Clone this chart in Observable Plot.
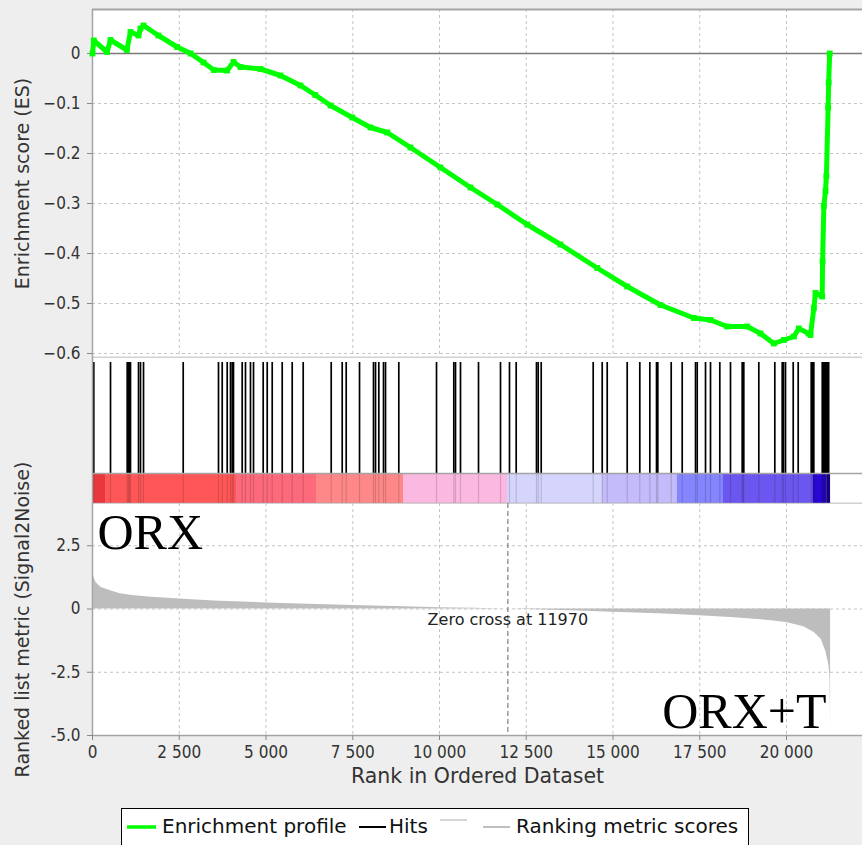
<!DOCTYPE html>
<html>
<head>
<meta charset="utf-8">
<script src="https://cdn.jsdelivr.net/npm/d3@7"></script>
<script src="https://cdn.jsdelivr.net/npm/@observablehq/plot@0.6"></script>
<style>
  html, body { margin: 0; padding: 0; background: #eeeeee; }
  #wrap { position: relative; width: 862px; height: 845px; overflow: hidden; background: #eeeeee; }
  .panel { position: absolute; left: 0; }
  #legend { position: absolute; left: 121px; top: 808px; }
</style>
</head>
<body>
<div id="wrap">
  <div class="panel" id="p1" style="top:0px"></div>
  <div class="panel" id="p2" style="top:357px"></div>
  <div class="panel" id="p3" style="top:503px"></div>
  <svg id="legend" width="628" height="40" style="overflow:visible">
    <rect x="0.5" y="0.5" width="627" height="45" fill="white" stroke="black" stroke-width="1"></rect>
    <g font-family="'DejaVu Sans',sans-serif" font-size="20" fill="#111">
      <line x1="6" x2="35" y1="19" y2="19" stroke="#00ff00" stroke-width="3.5"></line>
      <text x="41" y="25">Enrichment profile</text>
      <line x1="238" x2="265" y1="19" y2="19" stroke="#000" stroke-width="2"></line>
      <text x="268" y="25">Hits</text>
      <line x1="319" x2="346" y1="12" y2="12" stroke="#c8c8c8" stroke-width="1.5"></line>
      <line x1="362" x2="389" y1="19" y2="19" stroke="#aaaaaa" stroke-width="1.5"></line>
      <text x="395" y="25">Ranking metric scores</text>
    </g>
  </svg>
</div>
<script>
// ---------------- data ----------------
const esRank = [0, 37, 420, 519, 990, 1095, 1326, 1383, 1470, 1900, 2440, 2830, 3200, 3497, 3880, 4063, 4265, 4841, 5418, 5994, 6420, 6859, 7484, 8012, 8492, 9164, 10029, 10893, 11663, 12527, 13487, 14544, 15409, 16369, 17329, 17810, 18290, 18866, 19250, 19635, 19923, 20211, 20355, 20634, 20692, 20788, 20836, 21028, 21040, 21076, 21124, 21150, 21200, 21215, 21245];
const esValue = [0.0, 0.026, 0.003, 0.027, 0.007, 0.043, 0.036, 0.050, 0.056, 0.036, 0.013, 0.0, -0.018, -0.033, -0.034, -0.017, -0.027, -0.031, -0.044, -0.064, -0.083, -0.104, -0.128, -0.148, -0.158, -0.188, -0.228, -0.268, -0.302, -0.342, -0.382, -0.429, -0.466, -0.503, -0.529, -0.533, -0.546, -0.546, -0.560, -0.580, -0.573, -0.566, -0.550, -0.560, -0.563, -0.509, -0.479, -0.486, -0.416, -0.305, -0.275, -0.245, -0.108, -0.058, 0.0];

const hitRanks = [37, 519, 1000, 1037, 1066, 1095, 1326, 1383, 1470, 2614, 3631, 3738, 3882, 3977, 4026, 4063, 4314, 4409, 4553, 4640, 4919, 5035, 5179, 5467, 5755, 6072, 6879, 7196, 7311, 7695, 8098, 8156, 8251, 8386, 8444, 8827, 9914, 10412, 10461, 10605, 11124, 11758, 12017, 12210, 12795, 12844, 12931, 14429, 14689, 14833, 15409, 15772, 16061, 16254, 16291, 16677, 16994, 17378, 17427, 17666, 17810, 18078, 18386, 18723, 18746, 18769, 19202, 19663, 19876, 19914, 19971, 20193, 20337, 20712, 20750, 20787, 21030, 21055, 21080, 21105, 21130, 21160, 21190, 21215];

const metricRank = [0, 30, 100, 250, 520, 800, 1150, 1700, 2500, 3500, 5000, 6500, 7500, 9000, 10000, 11000, 11970, 13000, 14000, 15000, 16500, 17500, 18500, 19500, 20000, 20500, 20800, 21000, 21130, 21220, 21250, 21262, 21270];
const metricValue = [1.6, 1.3, 1.05, 0.85, 0.72, 0.6, 0.53, 0.46, 0.4, 0.32, 0.24, 0.18, 0.14, 0.09, 0.05, 0.025, 0, -0.04, -0.08, -0.13, -0.2, -0.27, -0.35, -0.45, -0.53, -0.7, -0.93, -1.2, -1.66, -2.2, -2.6, -3.5, -4.7];

const barStart = [0, 375, 4150, 6455, 8963, 11960, 14689, 16850, 18184, 20778, 21160];
const barEnd   = [375, 4150, 6455, 8963, 11960, 14689, 16850, 18184, 20778, 21160, 21270];
const barColor = ["#e8383e", "#ff5757", "#fd6a7c", "#fe8888", "#fbb8e1", "#d5d4fd", "#c4bbfa", "#8585fd", "#6b57ef", "#2a06d2", "#1e0090"];

const xTicks = [0, 2500, 5000, 7500, 10000, 12500, 15000, 17500, 20000];
const esTicks = [0, -0.1, -0.2, -0.3, -0.4, -0.5, -0.6];
const metricTicks = [2.5, 0, -2.5, -5];
const zeroCross = 11970;
const labels = {
  es: "Enrichment score (ES)",
  metric: "Ranked list metric (Signal2Noise)",
  x: "Rank in Ordered Dataset",
  zero: `Zero cross at ${zeroCross}`,
  left: "ORX",
  right: "ORX+T"
};

// ---------------- build ----------------
const es = esRank.map((r, i) => ({rank: r, es: esValue[i]}));
const metric = metricRank.map((r, i) => ({rank: r, value: metricValue[i]}));
const bars = barStart.map((s, i) => ({x1: s, x2: barEnd[i], color: barColor[i]}));

const W = 862;
const xDomain = [0, 22190];
const esDomain = [-0.608, 0.088];
const metricDomain = [-5, 4.17];
const COND = "'DejaVu Sans Condensed', 'DejaVu Sans', sans-serif";
const SANS = "'DejaVu Sans', sans-serif";
const SERIF = "'Liberation Serif', 'Times New Roman', serif";
const frameGray = "#a4a4a4";
const gridStyle = {stroke: "#c4c4c4", strokeOpacity: 1, strokeDasharray: "3,3"};
const svgStyle = `overflow: visible; background: transparent; font-family: ${COND};`;

const p1 = Plot.plot({
  width: W, height: 357,
  marginLeft: 92, marginRight: 0, marginTop: 9, marginBottom: 0,
  style: svgStyle,
  x: {domain: xDomain, axis: null},
  y: {domain: esDomain, axis: null},
  marks: [
    Plot.frame({fill: "white", stroke: null}),
    Plot.gridX(xTicks.filter(d => d > 0), gridStyle),
    Plot.gridY(esTicks.filter(d => d !== 0), gridStyle),
    Plot.ruleY([0], {stroke: "#7a7a7a", strokeWidth: 1.5}),
    Plot.ruleY([esDomain[1]], {stroke: frameGray, strokeWidth: 2}),
    Plot.ruleY([esDomain[0]], {stroke: frameGray, strokeWidth: 1.5}),
    Plot.ruleX([xDomain[0]], {stroke: frameGray, strokeWidth: 1.5}),
    Plot.axisY(esTicks, {
      tickSize: 5, tickPadding: 7, fontSize: 17, stroke: "#888", fill: "#333",
      tickFormat: d => d === 0 ? "0" : "\u2212" + Math.abs(d).toFixed(1), label: null
    }),
    Plot.line(es, {x: "rank", y: "es", stroke: "#00ff00", strokeWidth: 5}),
    Plot.dot(es, {x: "rank", y: "es", symbol: "square", r: 3.3, fill: "#00ff00"}),
    Plot.text([labels.es], {frameAnchor: "left", dx: -70, rotate: -90, textAnchor: "middle", fontSize: 19, fill: "#333", fontFamily: SANS})
  ]
});
document.getElementById("p1").appendChild(p1);

const barTop = 30 / 146;
const hitTop = 141 / 146;
const p2 = Plot.plot({
  width: W, height: 146,
  marginLeft: 92, marginRight: 0, marginTop: 0, marginBottom: 0,
  style: svgStyle,
  x: {domain: xDomain, axis: null},
  y: {domain: [0, 1], axis: null},
  color: {type: "identity"},
  marks: [
    Plot.frame({fill: "white", stroke: null}),
    Plot.rect(bars, {x1: "x1", x2: "x2", y1: 0, y2: barTop, fill: "color"}),
    Plot.ruleX(hitRanks, {y1: 0, y2: barTop, stroke: "#000", strokeOpacity: 0.15, strokeWidth: 1.2}),
    Plot.ruleX(hitRanks, {y1: barTop, y2: hitTop, stroke: "#000", strokeWidth: 1.7}),
    Plot.ruleY([barTop], {stroke: frameGray, strokeWidth: 1.5}),
    Plot.ruleY([0], {stroke: frameGray, strokeWidth: 1.5}),
    Plot.ruleX([xDomain[0]], {stroke: frameGray, strokeWidth: 1.5})
  ]
});
document.getElementById("p2").appendChild(p2);

const p3 = Plot.plot({
  width: W, height: 332,
  marginLeft: 92, marginRight: 0, marginTop: 0, marginBottom: 100,
  style: svgStyle,
  x: {domain: xDomain, axis: null},
  y: {domain: metricDomain, axis: null},
  marks: [
    Plot.frame({fill: "white", stroke: null}),
    Plot.gridX(xTicks.filter(d => d > 0), gridStyle),
    Plot.gridY(metricTicks, gridStyle),
    Plot.areaY(metric, {x: "rank", y: "value", fill: "#bdbdbd"}),
    Plot.ruleX([zeroCross], {stroke: "#6a6a6a", strokeDasharray: "5,3", strokeWidth: 1}),
    Plot.text([labels.zero], {x: () => zeroCross, y: () => 0, dy: 5, lineAnchor: "top", fontSize: 16, fill: "#222", fontFamily: SANS}),
    Plot.ruleY([metricDomain[0]], {stroke: frameGray, strokeWidth: 1.5}),
    Plot.ruleX([xDomain[0]], {stroke: frameGray, strokeWidth: 1.5}),
    Plot.axisY(metricTicks, {
      tickSize: 5, tickPadding: 7, fontSize: 17, stroke: "#888", fill: "#333",
      tickFormat: d => d === 0 ? "0" : d.toFixed(1), label: null
    }),
    Plot.axisX(xTicks, {
      tickSize: 5, tickPadding: 5, fontSize: 17, stroke: "#888", fill: "#333",
      tickFormat: d => d3.format(",")(d).replace(/,/g, " "), label: null
    }),
    Plot.text([labels.x], {frameAnchor: "bottom", dy: 47, fontSize: 20.5, fill: "#333", fontFamily: SANS}),
    Plot.text([labels.metric], {frameAnchor: "left", dx: -70, rotate: -90, textAnchor: "middle", fontSize: 19, fill: "#333", fontFamily: SANS}),
    Plot.text([labels.left], {frameAnchor: "top-left", dx: 5, dy: 9.5, lineAnchor: "top", textAnchor: "start", fontFamily: SERIF, fontSize: 50, fill: "#000"}),
    Plot.text([labels.right], {frameAnchor: "bottom-right", dx: -36, dy: -43.5, lineAnchor: "top", textAnchor: "end", fontFamily: SERIF, fontSize: 50, fill: "#000"})
  ]
});
document.getElementById("p3").appendChild(p3);
</script>
</body>
</html>
